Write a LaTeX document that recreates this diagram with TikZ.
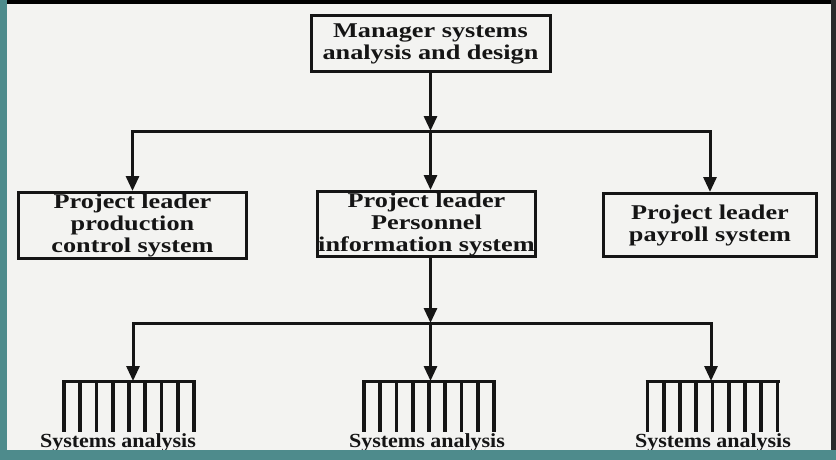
\documentclass[tikz,border=0pt]{standalone}
\usepackage{fontspec}
\setmainfont{Liberation Serif}
\newfontfamily\boxfont{Liberation Serif}[FakeStretch=1.25]
\newfontfamily\capfont{Liberation Serif}[FakeStretch=1.1]
\usetikzlibrary{arrows.meta}
\definecolor{paper}{HTML}{F3F3F1}
\definecolor{frame}{HTML}{4E8B8C}
\definecolor{ink}{HTML}{151515}
\definecolor{edge}{HTML}{2A2A2A}
\begin{document}
\begin{tikzpicture}[x=1pt,y=-1pt,
  box/.style={draw=ink, line width=3pt, inner sep=0pt, align=center,
    font=\boxfont\fontsize{21}{22}\selectfont\bfseries, text=ink},
  link/.style={draw=ink, line width=3pt, -{Triangle[width=13pt,length=15pt]}},
  caption/.style={font=\capfont\fontsize{20}{22}\selectfont\bfseries, text=ink, anchor=base, inner sep=0pt},
  comb/.pic={
    \draw[ink, line width=3pt] (-67,0) -- (67,0);
    \foreach \i in {0,...,8} \draw[ink, line width=3.8pt] (-65+\i*16.25,0) -- ++(0,51);
  }
]
\useasboundingbox (0,0) rectangle (836,460);
\fill[paper] (0,0) rectangle (836,460);

% boxes
\node[box, minimum width=239pt, minimum height=56pt] (mgr) at (430.5,43.5)
  {Manager systems\\analysis and design};
\node[box, minimum width=228pt, minimum height=66pt] (pl) at (132.5,225.5)
  {Project leader\\production\\control system};
\node[box, minimum width=218pt, minimum height=65pt] (pi) at (426.5,224)
  {Project leader\\Personnel\\information system};
\node[box, minimum width=213pt, minimum height=63pt] (pp) at (710,225)
  {Project leader\\payroll system};

% junctions
\coordinate (j1) at (430.5,131);
\coordinate (j2) at (430.5,323);
\coordinate (t1) at (133,381);
\coordinate (t2) at (430.5,381);
\coordinate (t3) at (711,381);

% connectors
\draw[link] (mgr.south) -- (j1);
\draw[link] (j1) -| (pl.north);
\draw[link] (j1) -- (j1 |- pi.north);
\draw[link] (j1) -| (pp.north);
\draw[link] (j1 |- pi.south) -- (j2);
\draw[link] (j2) -| (t1);
\draw[link] (j2) -- (t2);
\draw[link] (j2) -| (t3);

% analyst groups
\pic at (129,381) {comb};
\pic at (429,381) {comb};
\pic at (712.5,381) {comb};
\node[caption] (c1) at (118,447) {Systems analysis};
\node[caption] (c2) at (427,447) {Systems analysis};
\node[caption] (c3) at (713,447) {Systems analysis};

% page frame
\fill[frame] (0,0) rectangle (7,460);
\fill[frame] (0,450) rectangle (836,460);
\fill[black] (7,0) rectangle (836,4.5);
\fill[edge] (831,0) rectangle (836,450);
\end{tikzpicture}
\end{document}
